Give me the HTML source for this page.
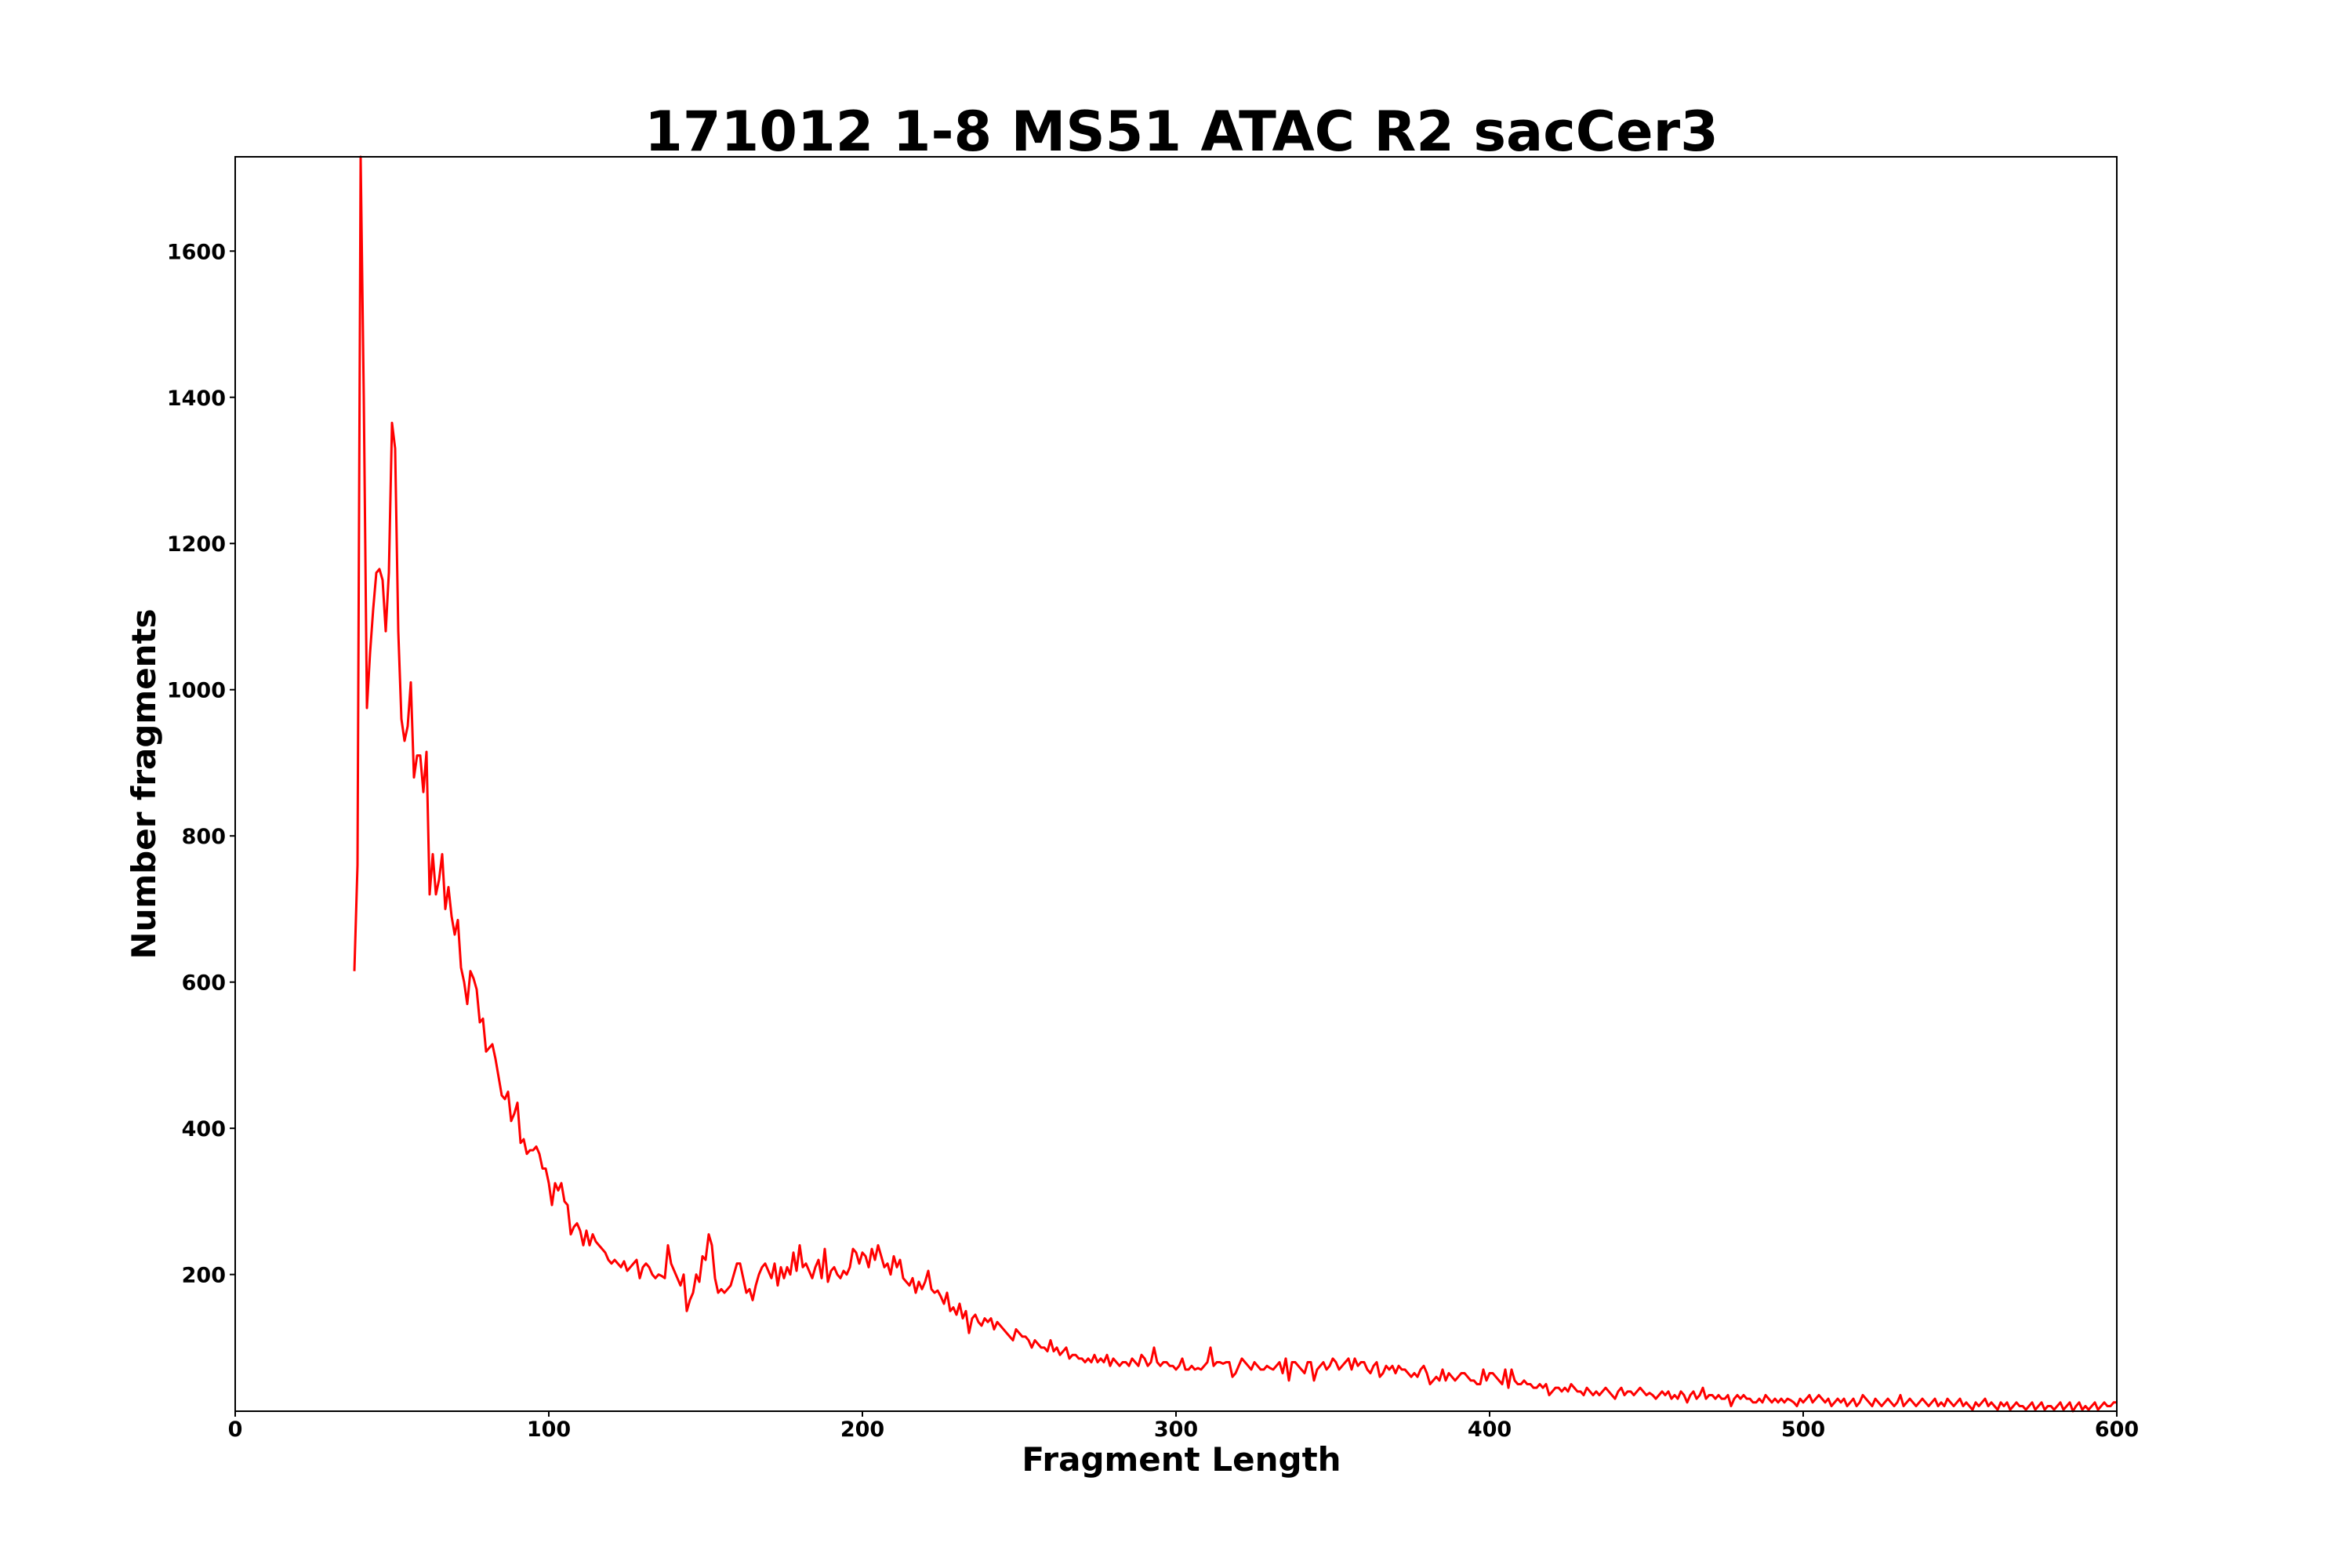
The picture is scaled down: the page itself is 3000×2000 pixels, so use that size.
<!DOCTYPE html>
<html><head><meta charset="utf-8"><style>
html,body{margin:0;padding:0;background:#fff}
svg{display:block}
text{font-family:"DejaVu Sans","Liberation Sans",sans-serif;font-weight:bold;fill:#000}
</style></head><body>
<svg id="chart" width="3000" height="2000" viewBox="0 0 3000 2000" xmlns="http://www.w3.org/2000/svg">
<rect width="3000" height="2000" fill="#fff"/>
<text x="1507" y="192" font-size="70" text-anchor="middle">171012 1-8 MS51 ATAC R2 sacCer3</text>
<g id="xticks"></g>
<g id="yticks"></g>
<path id="series" fill="none" stroke="#ff0000" stroke-width="3" stroke-linejoin="round"/>
<rect x="300" y="200" width="2400" height="1600" fill="none" stroke="#000" stroke-width="2"/>
<text x="1507" y="1876" font-size="42" text-anchor="middle">Fragment Length</text>
<text transform="translate(198,1000) rotate(-90)" font-size="42" text-anchor="middle">Number fragments</text>
</svg>
<script>
const startLength = 38;
const counts = [615,760,
1729,1400,975,1050,1110,1160,1165,1150,1080,1160,
1365,1330,1080,960,930,950,1010,880,910,910,
860,915,720,775,720,740,775,700,730,690,
665,685,620,600,570,615,605,590,545,550,
505,510,515,495,470,445,440,450,410,420,
435,380,385,365,370,370,375,365,345,345,
325,295,325,315,325,300,295,255,265,270,
260,240,260,240,255,245,240,235,230,220,
215,220,215,210,218,205,210,215,220,195,
210,215,210,200,195,200,198,195,240,215,
205,195,185,200,150,165,175,200,190,225,
220,255,240,195,175,180,175,180,185,200,
215,215,195,175,180,165,185,200,210,215,
205,195,215,185,210,195,210,200,230,205,
240,210,215,205,195,210,220,195,235,190,
205,210,200,195,205,200,210,235,230,215,
230,225,210,235,220,240,225,210,215,200,
225,210,220,195,190,185,195,175,190,180,
190,205,180,175,178,170,160,175,150,155,
145,160,140,150,120,140,145,135,130,140,
135,140,125,135,130,125,120,115,110,125,
120,115,115,110,100,110,105,100,100,95,
110,95,100,90,95,100,85,90,90,85,
85,80,85,80,90,80,85,80,90,75,
85,80,75,80,80,75,85,80,75,90,
85,75,80,100,80,75,80,80,75,75,
70,75,85,70,70,75,70,72,70,75,
80,100,75,80,80,78,80,80,60,65,
75,85,80,75,70,80,75,70,70,75,
72,70,75,80,65,85,55,80,80,75,
70,65,80,80,55,70,75,80,70,75,
85,80,70,75,80,85,70,85,75,80,
80,70,65,75,80,60,65,75,70,75,
65,75,70,70,65,60,65,60,70,75,
65,50,55,60,55,70,55,65,60,55,
60,65,65,60,55,55,50,50,70,55,
65,65,60,55,50,70,45,70,55,50,
50,55,50,50,45,45,50,45,50,35,
40,45,45,40,45,40,50,45,40,40,
35,45,40,35,40,35,40,45,40,35,
30,40,45,35,40,40,35,40,45,40,
35,38,35,30,35,40,35,40,30,35,
30,40,35,25,35,40,30,35,45,30,
35,35,30,35,30,30,35,20,30,35,
30,35,30,30,25,25,30,25,35,30,
25,30,25,30,25,30,28,25,20,30,
25,30,35,25,30,35,30,25,30,20,
25,30,25,30,20,25,30,20,25,35,
30,25,20,30,25,20,25,30,25,20,
25,35,20,25,30,25,20,25,30,25,
20,25,30,20,25,20,30,25,20,25,
30,20,25,20,15,25,20,25,30,20,
25,20,15,25,20,25,15,20,25,20,
20,15,20,25,15,20,25,15,20,20,
15,20,25,15,20,25,13,20,25,15,
20,15,20,25,15,20,25,20,20,25,
25];
const xTickValues = [0,100,200,300,400,500,600];
const yTickValues = [200,400,600,800,1000,1200,1400,1600];

const NS = "http://www.w3.org/2000/svg";
const L = 300, R = 2700, T = 200, B = 1800;
const xMin = 0, xMax = 600;
const yMin = Math.min(...counts), yMax = Math.max(...counts);
function xs(v){ return L + (v - xMin) / (xMax - xMin) * (R - L); }
function ys(v){ return B - (v - yMin) / (yMax - yMin) * (B - T); }

let d = "";
counts.forEach((c, i) => {
  const x = startLength + i;
  if (x > xMax) return;
  d += (i ? "L" : "M") + xs(x).toFixed(2) + "," + ys(c).toFixed(2);
});
document.getElementById("series").setAttribute("d", d);

const xg = document.getElementById("xticks");
xTickValues.forEach(v => {
  const ln = document.createElementNS(NS, "line");
  
  
  ln.setAttribute("x1", xs(v)); ln.setAttribute("x2", xs(v));
  ln.setAttribute("y1", B); ln.setAttribute("y2", B + 7);
  ln.setAttribute("stroke", "#000"); ln.setAttribute("stroke-width", "2");
  xg.appendChild(ln);
  const t = document.createElementNS(NS, "text");
  
  
  t.setAttribute("x", xs(v)); t.setAttribute("y", B + 32);
  t.setAttribute("font-size", "27"); t.setAttribute("text-anchor", "middle");
  t.textContent = v;
  xg.appendChild(t);
});
const yg = document.getElementById("yticks");
yTickValues.forEach(v => {
  const ln = document.createElementNS(NS, "line");
  
  
  ln.setAttribute("x1", L - 7); ln.setAttribute("x2", L);
  ln.setAttribute("y1", ys(v)); ln.setAttribute("y2", ys(v));
  ln.setAttribute("stroke", "#000"); ln.setAttribute("stroke-width", "2");
  yg.appendChild(ln);
  const t = document.createElementNS(NS, "text");
  
  
  t.setAttribute("x", L - 12); t.setAttribute("y", ys(v) + 10);
  t.setAttribute("font-size", "27"); t.setAttribute("text-anchor", "end");
  t.textContent = v;
  yg.appendChild(t);
});
</script>
</body></html>
